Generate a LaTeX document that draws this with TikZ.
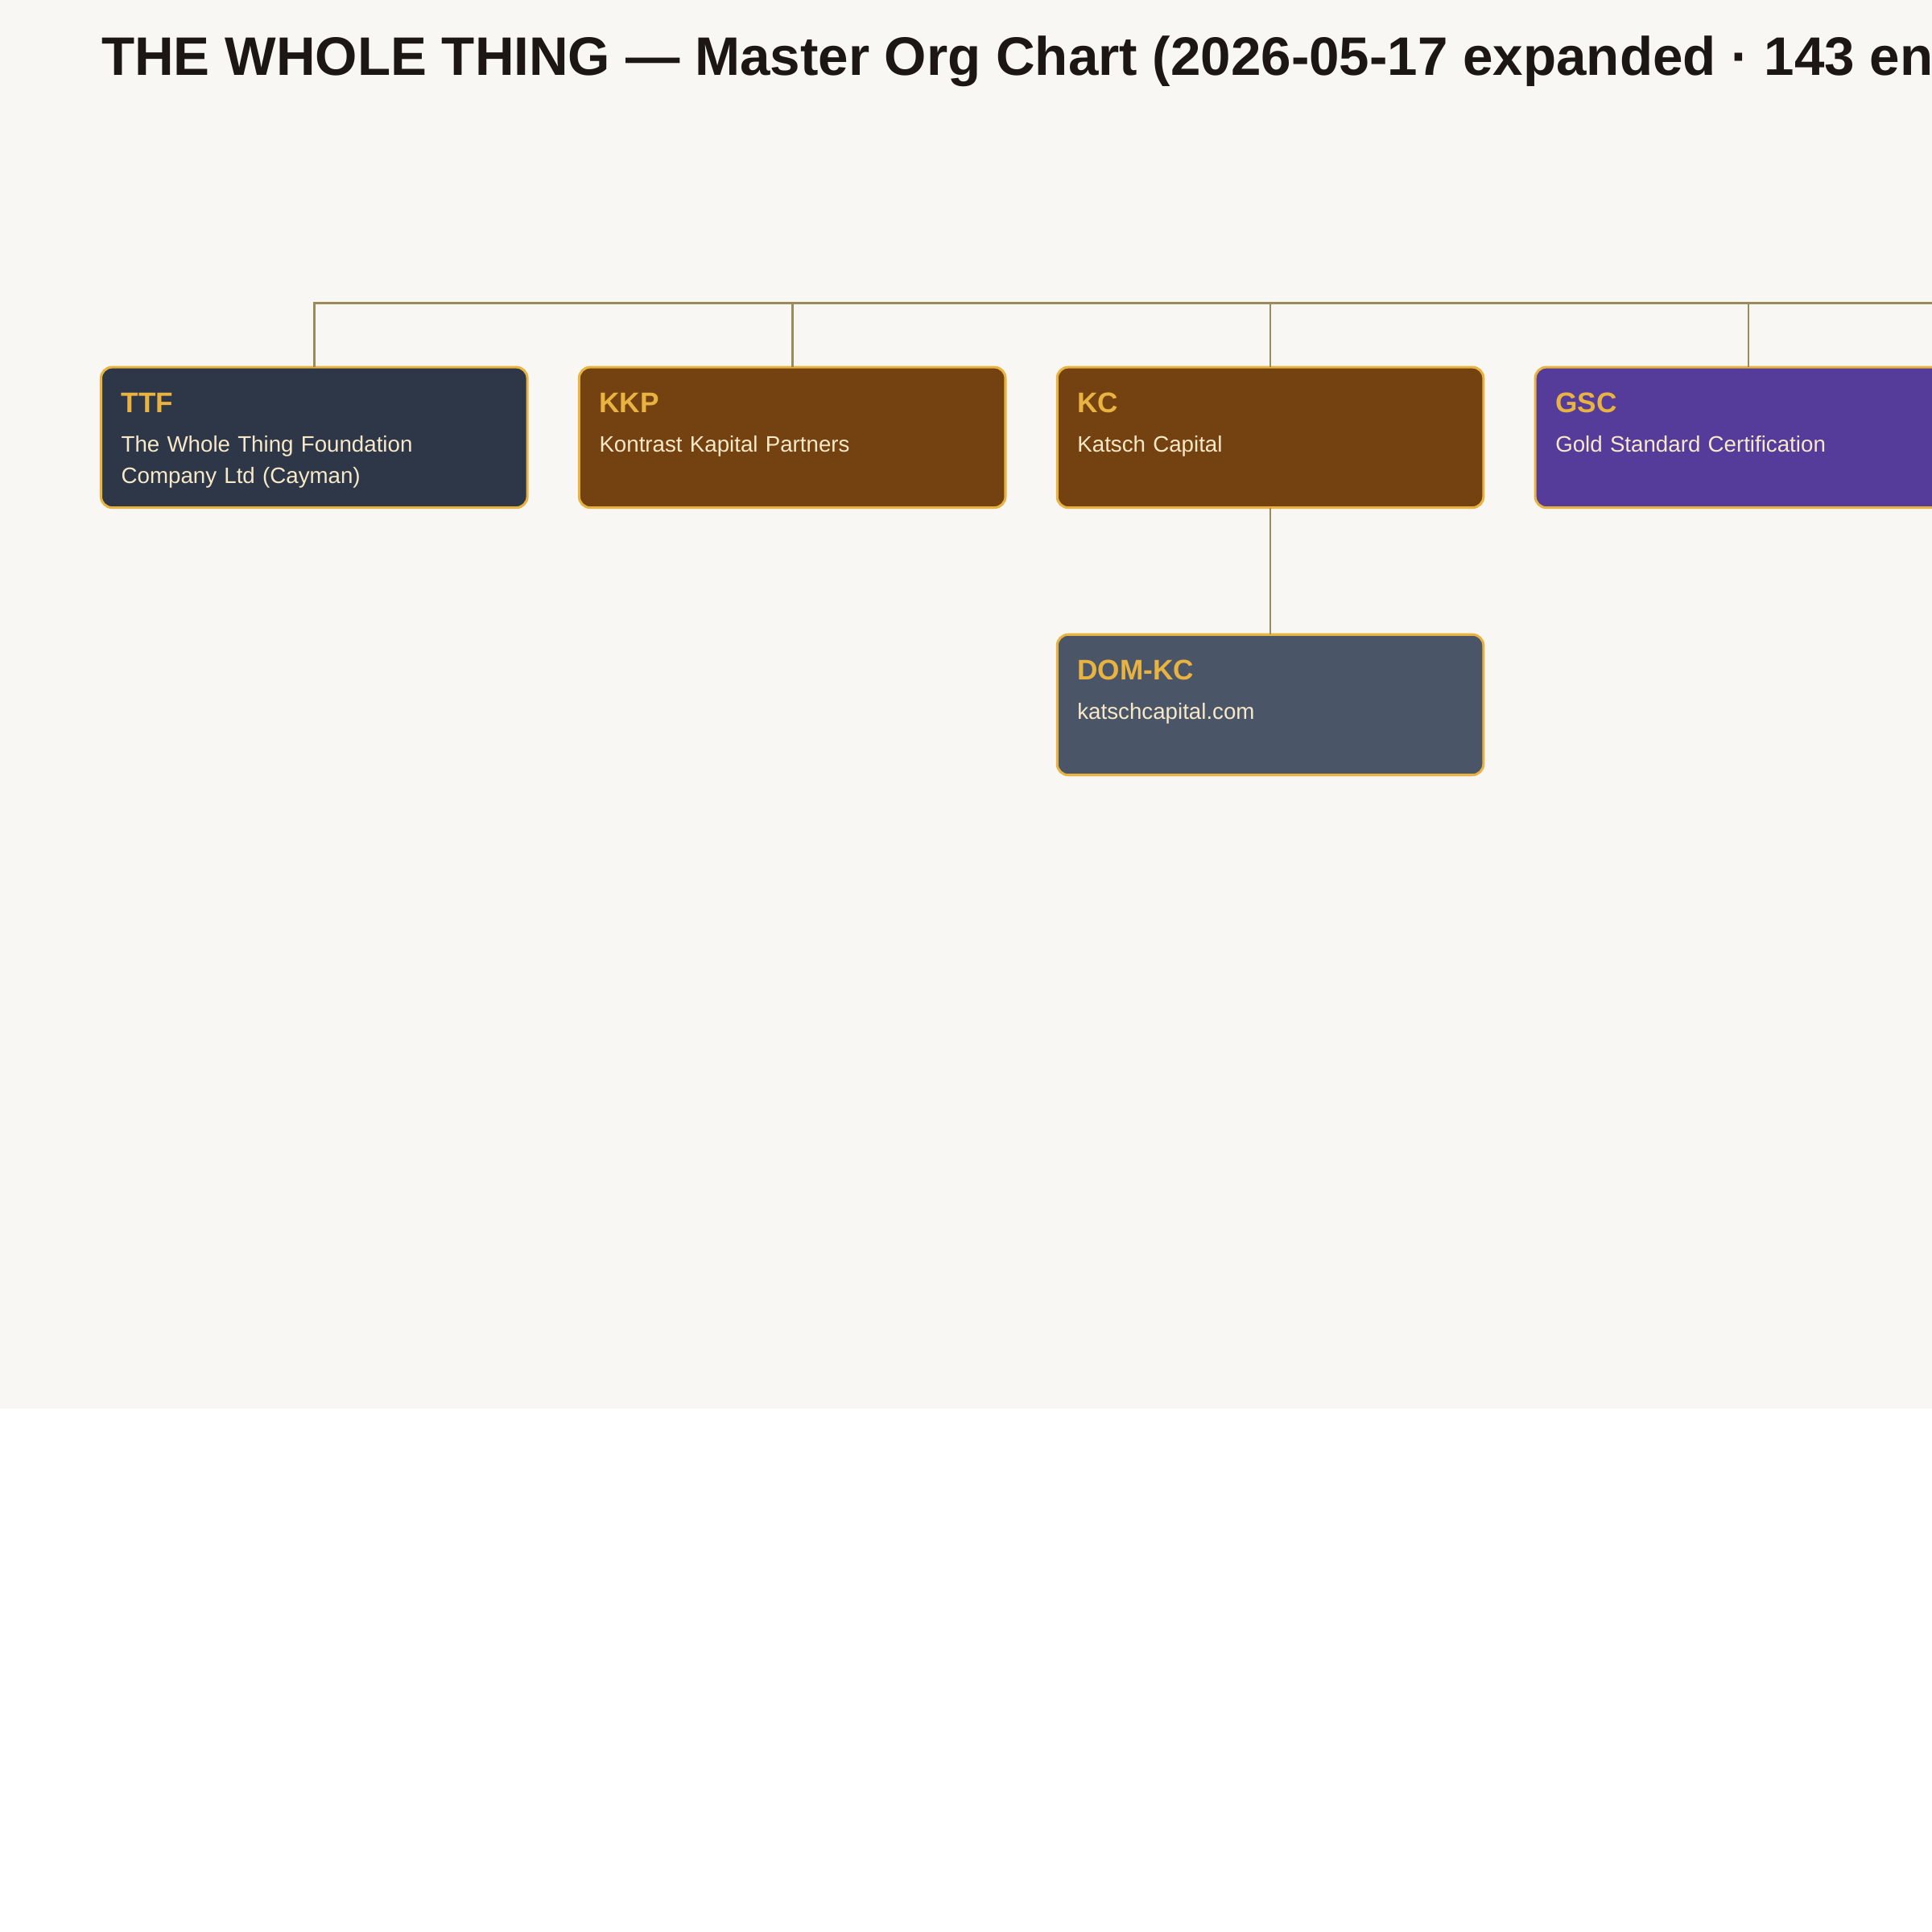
\documentclass[tikz,border=0pt]{standalone}
\usepackage{fontspec}
\setmainfont{Liberation Sans}
\usetikzlibrary{calc}
\definecolor{pagebg}{HTML}{F8F7F3}
\definecolor{titlecol}{HTML}{1C1714}
\definecolor{linkcol}{HTML}{9B8B5A}
\definecolor{goldcol}{HTML}{E8B340}
\definecolor{creamcol}{HTML}{F7E8C8}
\definecolor{navyfill}{HTML}{2D3748}
\definecolor{brownfill}{HTML}{744210}
\definecolor{purplefill}{HTML}{553C9A}
\definecolor{slatefill}{HTML}{4A5568}
\tikzset{
  orgbox/.style={draw=goldcol, line width=1pt, rounded corners=4.5pt, anchor=north west,
    minimum width=173pt, minimum height=57pt, inner sep=0pt, outer sep=0pt},
  codetxt/.style={anchor=base west, inner sep=0pt, text=goldcol, font=\bfseries\fontsize{11.5}{14}\selectfont},
  subtxt/.style={anchor=base west, inner sep=0pt, text=creamcol, text width=160pt, align=left,
    font=\fontsize{9.05}{12.5}\selectfont},
  link/.style={draw=linkcol, line width=0.9pt}
}
\begin{document}
\begin{tikzpicture}[x=0.5pt,y=-0.5pt]
\useasboundingbox (0,0) rectangle (1568,1568);
\fill[pagebg] (0,0) rectangle (1568,1143);
\fill[white] (0,1143) rectangle (1568,1568);
\node[anchor=base west, inner sep=0pt, text=titlecol, font=\bfseries\fontsize{22}{26}\selectfont] (title) at (82,61) {THE WHOLE THING — Master Org Chart (2026-05-17 expanded · 143 entities)};

\node[orgbox, fill=navyfill] (ttf) at (82,298) {};
\node[orgbox, fill=brownfill] (kkp) at (470,298) {};
\node[orgbox, fill=brownfill] (kc) at (858,298) {};
\node[orgbox, fill=purplefill] (gsc) at (1246,298) {};
\node[orgbox, fill=slatefill] (domkc) at (858,515) {};

\node[codetxt] (ttfcode) at ($(ttf.north west)+(16,37)$) {TTF};
\node[subtxt] (ttfname) at ($(ttf.north west)+(16,69)$) {The Whole Thing Foundation\\Company Ltd (Cayman)};
\node[codetxt] (kkpcode) at ($(kkp.north west)+(16,37)$) {KKP};
\node[subtxt] (kkpname) at ($(kkp.north west)+(16,69)$) {Kontrast Kapital Partners};
\node[codetxt] (kccode) at ($(kc.north west)+(16,37)$) {KC};
\node[subtxt] (kcname) at ($(kc.north west)+(16,69)$) {Katsch Capital};
\node[codetxt] (gsccode) at ($(gsc.north west)+(16,37)$) {GSC};
\node[subtxt] (gscname) at ($(gsc.north west)+(16,69)$) {Gold Standard Certification};
\node[codetxt] (domkccode) at ($(domkc.north west)+(16,37)$) {DOM-KC};
\node[subtxt] (domkcname) at ($(domkc.north west)+(16,69)$) {katschcapital.com};

\coordinate (busend) at (1600,246);
\draw[link] (ttf.north) |- (busend);
\draw[link] (kkp.north) -- (kkp.north |- busend);
\draw[link] (kc.north) -- (kc.north |- busend);
\draw[link] (gsc.north) -- (gsc.north |- busend);
\draw[link] (kc.south) -- (domkc.north);
\end{tikzpicture}
\end{document}
